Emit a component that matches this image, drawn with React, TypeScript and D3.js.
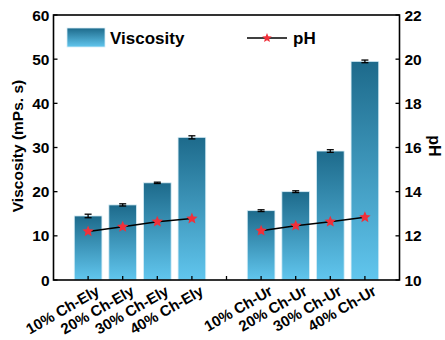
import React from "react";
import * as d3 from "d3";

const categories = ["10% Ch-Ely", "20% Ch-Ely", "30% Ch-Ely", "40% Ch-Ely", "", "10% Ch-Ur", "20% Ch-Ur", "30% Ch-Ur", "40% Ch-Ur"];
const viscosity = [14.5, 17.0, 22.0, 32.3, null, 15.7, 20.0, 29.2, 49.5];
const viscosityErr = [0.4, 0.25, 0.15, 0.35, null, 0.2, 0.2, 0.3, 0.3];
const phGroups = [[0, 1, 2, 3], [5, 6, 7, 8]];
const ph = [12.2, 12.41, 12.64, 12.78, null, 12.23, 12.46, 12.64, 12.84];
const leftTicks = [0, 10, 20, 30, 40, 50, 60];
const rightTicks = [10, 12, 14, 16, 18, 20, 22];

const W = 445, H = 340;
const L = 53.5, R = 399.5, T = 15, B = 280;
const font = "Arial, 'Liberation Sans', sans-serif";

function starPath(cx: number, cy: number, r: number) {
  const pts: string[] = [];
  for (let i = 0; i < 10; i++) {
    const rr = i % 2 === 0 ? r : r * 0.45;
    const a = -Math.PI / 2 + (i * Math.PI) / 5;
    pts.push(`${cx + rr * Math.cos(a)},${cy + rr * Math.sin(a)}`);
  }
  return "M" + pts.join("L") + "Z";
}

export default function App() {
  const x = d3.scaleLinear().domain([0, categories.length + 1]).range([L, R]);
  const y = d3.scaleLinear().domain([0, 60]).range([B, T]);
  const y2 = d3.scaleLinear().domain([10, 22]).range([B, T]);
  const step = x(1) - x(0);
  const bw = step * 0.8;
  const line = d3.line<number>().x((i) => x(i + 1)).y((i) => y2(ph[i] as number));

  return (
    <svg width={W} height={H} style={{ position: "absolute", left: 0, top: 0, background: "#fff" }}>
      <defs>
        <linearGradient id="barGrad" x1="0" y1="0" x2="0" y2="1">
          <stop offset="0%" stopColor="#1d6a8b" />
          <stop offset="100%" stopColor="#61c6ee" />
        </linearGradient>
        <linearGradient id="legGrad" x1="0" y1="0" x2="0" y2="1">
          <stop offset="0%" stopColor="#1d6a8b" />
          <stop offset="100%" stopColor="#61c6ee" />
        </linearGradient>
      </defs>
      {viscosity.map((v, i) =>
        v == null ? null : (
          <rect key={"b" + i} x={x(i + 1) - bw / 2} y={y(v)} width={bw} height={B - y(v)} fill="url(#barGrad)" stroke="#d8eef7" strokeWidth={0.8} />
        )
      )}
      {viscosity.map((v, i) => {
        if (v == null) return null;
        const e = viscosityErr[i] as number;
        const cx = x(i + 1);
        return (
          <g key={"e" + i} stroke="#000" strokeWidth={1.3}>
            <line x1={cx} x2={cx} y1={y(v + e)} y2={y(v - e)} />
            <line x1={cx - 3.5} x2={cx + 3.5} y1={y(v + e)} y2={y(v + e)} />
            <line x1={cx - 3.5} x2={cx + 3.5} y1={y(v - e)} y2={y(v - e)} />
          </g>
        );
      })}
      {phGroups.map((g, k) => (
        <path key={"l" + k} d={line(g) as string} fill="none" stroke="#000" strokeWidth={1.5} />
      ))}
      {ph.map((p, i) => (p == null ? null : <path key={"s" + i} d={starPath(x(i + 1), y2(p), 6)} fill="#f0303a" />))}
      <rect x={L} y={T} width={R - L} height={B - T} fill="none" stroke="#000" strokeWidth={1.6} />
      {leftTicks.map((t) => (
        <g key={"lt" + t}>
          <line x1={L} x2={L + 4} y1={y(t)} y2={y(t)} stroke="#000" strokeWidth={1.3} />
          <text x={L - 4} y={y(t)} dy="0.36em" textAnchor="end" fontFamily={font} fontWeight="bold" fontSize={15.5}>
            {t}
          </text>
        </g>
      ))}
      {rightTicks.map((t) => (
        <g key={"rt" + t}>
          <line x1={R - 4} x2={R} y1={y2(t)} y2={y2(t)} stroke="#000" strokeWidth={1.3} />
          <text x={R + 5} y={y2(t)} dy="0.36em" textAnchor="start" fontFamily={font} fontWeight="bold" fontSize={15.5}>
            {t}
          </text>
        </g>
      ))}
      {categories.map((c, i) => {
        const cx = x(i + 1);
        return (
          <g key={"xt" + i}>
            <line x1={cx} x2={cx} y1={B} y2={B - 4} stroke="#000" strokeWidth={1.3} />
            {c && (
              <text
                transform={`translate(${cx + 12.5},${B + 14}) rotate(-30)`}
                textAnchor="end"
                fontFamily={font}
                fontWeight="bold"
                fontSize={15}
              >
                {c}
              </text>
            )}
          </g>
        );
      })}
      <text transform={`translate(23,146) rotate(-90)`} textAnchor="middle" fontFamily={font} fontWeight="bold" fontSize={15.5}>
        Viscosity (mPs. s)
      </text>
      <text transform={`translate(429,146) rotate(90)`} textAnchor="middle" fontFamily={font} fontWeight="bold" fontSize={16}>
        pH
      </text>
      <rect x={67} y={28} width={38} height={19} fill="url(#legGrad)" stroke="#d8eef7" strokeWidth={0.8} />
      <text x={110} y={44} fontFamily={font} fontWeight="bold" fontSize={17}>
        Viscosity
      </text>
      <line x1={247} x2={287} y1={38} y2={38} stroke="#000" strokeWidth={1.5} />
      <path d={starPath(267, 38, 5)} fill="#f0303a" />
      <text x={293} y={44} fontFamily={font} fontWeight="bold" fontSize={17}>
        pH
      </text>
    </svg>
  );
}
